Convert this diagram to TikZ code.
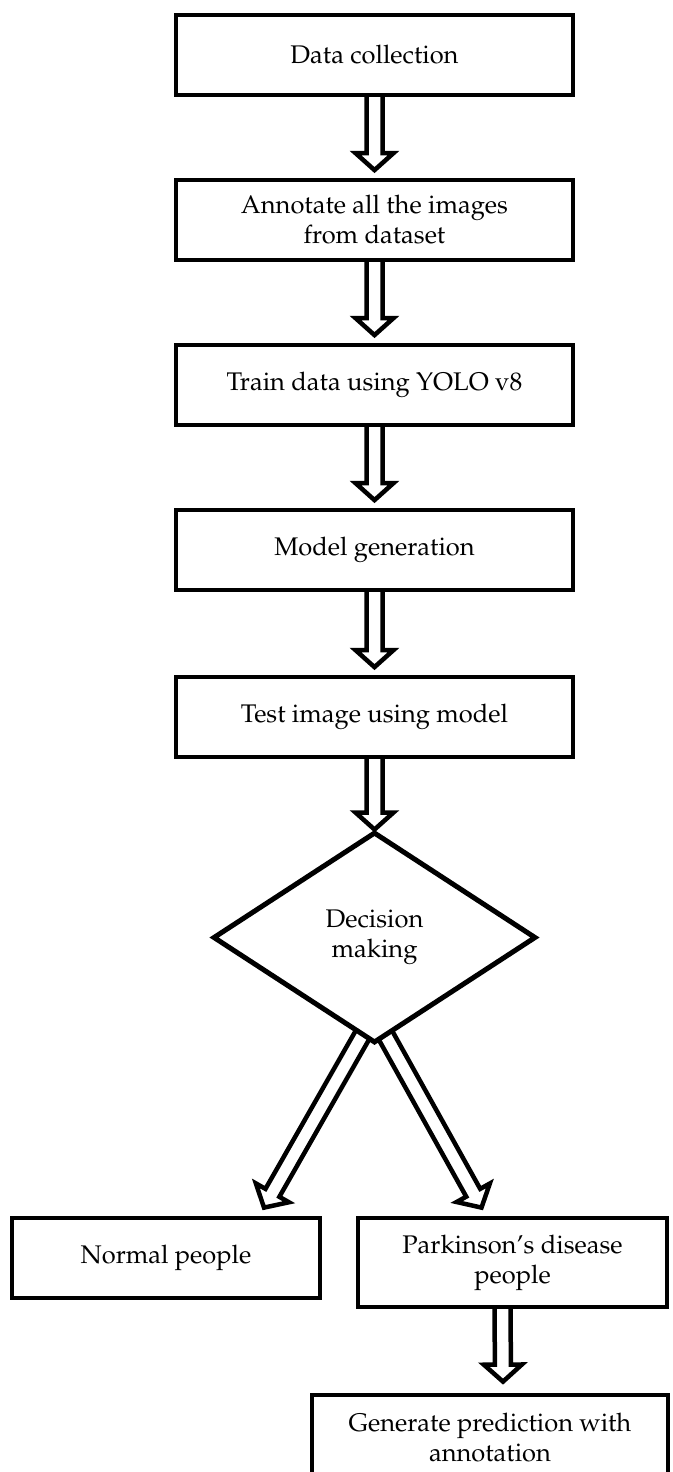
\documentclass[tikz,border=0pt]{standalone}
\usepackage[T1]{fontenc}
\usepackage{mathpazo}
\usetikzlibrary{calc,shapes.geometric,backgrounds}

% half width of the shaft, half width and length of the head of a hollow arrow
\def\shaftw{8pt}
\def\headw{19pt}
\def\headl{17pt}

\begin{document}
\begin{tikzpicture}[x=1pt,y=-1pt,
  txt/.style={align=center,font=\fontsize{25.5}{30}\selectfont},
  box/.style={txt,draw,line width=4.8pt,fill=white,inner sep=0pt},
  stepbox/.style={box,minimum width=397pt,minimum height=80pt},
  decision/.style={txt,diamond,draw,line width=5pt,fill=white,inner sep=0pt,
    minimum width=323pt,minimum height=211pt},
  hollow/.style={draw=black,fill=white,line width=4.5pt,line join=miter,
    to path={
      ($(\tikztostart)!\shaftw!90:(\tikztotarget)$) --
      ($(\tikztotarget)!\headl!(\tikztostart)!\shaftw!-90:(\tikztostart)$) --
      ($(\tikztotarget)!\headl!(\tikztostart)!\headw!-90:(\tikztostart)$) --
      (\tikztotarget) --
      ($(\tikztotarget)!\headl!(\tikztostart)!\headw!90:(\tikztostart)$) --
      ($(\tikztotarget)!\headl!(\tikztostart)!\shaftw!90:(\tikztostart)$) --
      ($(\tikztostart)!\shaftw!-90:(\tikztotarget)$) -- cycle}}
]
\useasboundingbox (0,0) rectangle (672,1472);

% main column
\node[stepbox] (b1) at (374.5,55)  {Data collection};
\node[stepbox] (b2) at (374.5,220) {Annotate all the images\\from dataset};
\node[stepbox] (b3) at (374.5,385) {Train data using YOLO v8};
\node[stepbox] (b4) at (374.5,550) {Model generation};
\node[stepbox] (b5) at (374.5,717) {Test image using model};
\node[decision] (dec) at (374.5,937.5) {Decision\\making};

% outcomes
\node[box,minimum width=308pt,minimum height=80pt] (normal) at (166,1258) {Normal people};
\node[box,minimum width=309pt,minimum height=89pt] (pd) at (512.5,1262.5) {Parkinson's disease\\people};
\node[box,minimum width=356pt,minimum height=86pt] (gen) at (490,1438) {Generate prediction with\\annotation};

% exit points of the two branches, inside the decision shape
\coordinate (decl) at (371,1020);
\coordinate (decr) at (377,1020);

\begin{scope}[on background layer]
  \draw[hollow] ([yshift=5pt]b1.south) to ([yshift=7.5pt]b2.north);
  \draw[hollow] ([yshift=5pt]b2.south) to ([yshift=7.5pt]b3.north);
  \draw[hollow] ([yshift=5pt]b3.south) to ([yshift=7.5pt]b4.north);
  \draw[hollow] ([yshift=5pt]b4.south) to ([yshift=7.5pt]b5.north);
  \draw[hollow] ([yshift=5pt]b5.south) to (dec.north);
  \draw[hollow] (decl) to ([xshift=98pt,yshift=8pt]normal.north);
  \draw[hollow] (decr) to ([xshift=-31pt,yshift=8pt]pd.north);
  \draw[hollow] ([xshift=-10pt,yshift=5pt]pd.south) to ([xshift=13pt,yshift=11pt]gen.north);
\end{scope}
\end{tikzpicture}
\end{document}
